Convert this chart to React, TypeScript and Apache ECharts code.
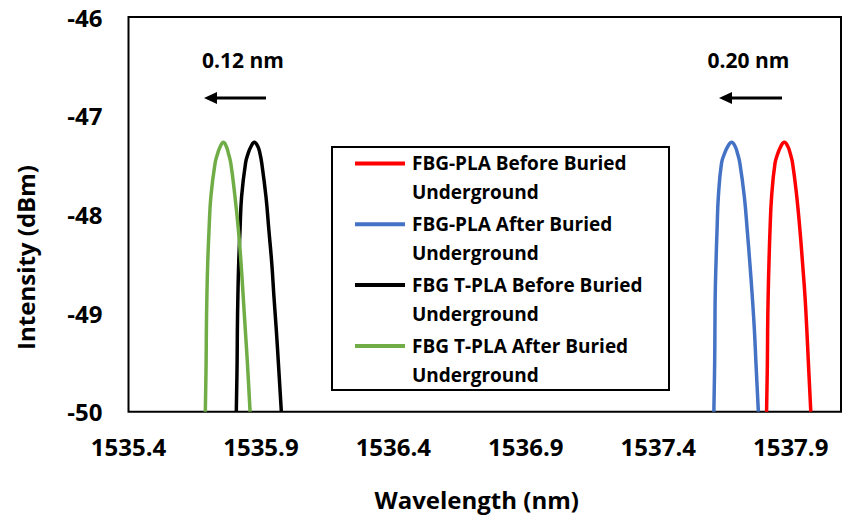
import React, { useEffect, useRef } from "react";
import * as echarts from "echarts";

const FONT = "'Open Sans', 'DejaVu Sans', sans-serif";

const seriesNames = [
  "FBG-PLA Before Buried Underground",
  "FBG-PLA After Buried Underground",
  "FBG T-PLA Before Buried Underground",
  "FBG T-PLA After Buried Underground",
];
const legendLines = [
  ["FBG-PLA Before Buried", "Underground"],
  ["FBG-PLA After Buried", "Underground"],
  ["FBG T-PLA Before Buried", "Underground"],
  ["FBG T-PLA After Buried", "Underground"],
];
const seriesColors = ["#FF0000", "#4472C4", "#000000", "#70AD47"];

const xTickLabels = [1535.4, 1535.9, 1536.4, 1536.9, 1537.4, 1537.9];
const yTickLabels = [-50, -49, -48, -47, -46];

const intensityLevels = [
  -50, -49.51, -49.17, -48.83, -48.5, -48.16, -47.82, -47.48, -47.38, -47.31, -47.27,
  -47.31, -47.38, -47.48, -47.82, -48.16, -48.5, -48.83, -49.17, -49.51, -50,
];

const wlPlaBefore = [
  1537.809, 1537.812, 1537.813, 1537.815, 1537.818, 1537.822, 1537.828, 1537.841, 1537.852, 1537.863, 1537.876,
  1537.889, 1537.898, 1537.907, 1537.923, 1537.935, 1537.945, 1537.954, 1537.961, 1537.967, 1537.976,
];
const intPlaBefore = intensityLevels.slice();

const wlPlaAfter = [
  1537.61, 1537.613, 1537.614, 1537.615, 1537.618, 1537.622, 1537.627, 1537.639, 1537.651, 1537.663, 1537.677,
  1537.69, 1537.699, 1537.708, 1537.725, 1537.736, 1537.746, 1537.755, 1537.763, 1537.769, 1537.778,
];
const intPlaAfter = intensityLevels.slice();

const wlTplaBefore = [
  1535.807, 1535.81, 1535.811, 1535.813, 1535.816, 1535.821, 1535.827, 1535.842, 1535.852, 1535.863, 1535.875,
  1535.888, 1535.896, 1535.903, 1535.919, 1535.93, 1535.941, 1535.949, 1535.958, 1535.966, 1535.977,
];
const intTplaBefore = intensityLevels.slice();

const wlTplaAfter = [
  1535.69, 1535.693, 1535.694, 1535.696, 1535.699, 1535.704, 1535.711, 1535.727, 1535.737, 1535.747, 1535.758,
  1535.769, 1535.777, 1535.786, 1535.802, 1535.815, 1535.825, 1535.833, 1535.841, 1535.849, 1535.859,
];
const intTplaAfter = intensityLevels.slice();

const wlSets = [wlPlaBefore, wlPlaAfter, wlTplaBefore, wlTplaAfter];
const intSets = [intPlaBefore, intPlaAfter, intTplaBefore, intTplaAfter];

const shiftLabels = ["0.12 nm", "0.20 nm"];

function arrow(tipX: number, tailX: number, y: number) {
  return [
    { type: "line", shape: { x1: tipX + 8, y1: y, x2: tailX, y2: y }, style: { stroke: "#000", lineWidth: 3 } },
    {
      type: "polygon",
      shape: { points: [[tipX, y], [tipX + 13, y - 6], [tipX + 13, y + 6]] },
      style: { fill: "#000" },
    },
  ];
}

export default function App() {
  const ref = useRef<HTMLDivElement>(null);
  useEffect(() => {
    if (!ref.current) return;
    const chart = echarts.init(ref.current, undefined, { renderer: "svg" });

    const legendGraphics: any[] = [
      {
        type: "rect",
        shape: { x: 332, y: 147, width: 337, height: 243 },
        style: { fill: "#fff", stroke: "#000", lineWidth: 2 },
        z: 10,
      },
    ];
    legendLines.forEach((lines, i) => {
      const cy = 163.5 + i * 60.8;
      legendGraphics.push({
        type: "line",
        shape: { x1: 355, y1: cy, x2: 405, y2: cy },
        style: { stroke: seriesColors[i], lineWidth: 4 },
        z: 11,
      });
      legendGraphics.push({
        type: "text",
        x: 412,
        y: cy - 14.4,
        style: {
          text: lines.join("\n"),
          font: `bold 19px ${FONT}`,
          fill: "#000",
          lineHeight: 28.8,
          verticalAlign: "top",
          align: "left",
        },
        z: 11,
      });
    });

    const option: any = {
      animation: false,
      backgroundColor: "#fff",
      grid: {
        left: 128.5,
        right: 2,
        top: 17,
        bottom: 105.3,
        show: true,
        borderColor: "#000",
        borderWidth: 2,
      },
      xAxis: {
        type: "value",
        min: 1535.4,
        max: 1538.09,
        axisLine: { show: false },
        axisTick: { show: false },
        splitLine: { show: false },
        axisLabel: {
          customValues: xTickLabels,
          formatter: (v: number) => v.toFixed(1),
          fontFamily: FONT,
          fontWeight: "bold",
          fontSize: 24,
          color: "#000",
          margin: 23,
        },
      },
      yAxis: {
        type: "value",
        min: -50,
        max: -46,
        interval: 1,
        axisLine: { show: false },
        axisTick: { show: false },
        splitLine: { show: false },
        axisLabel: {
          fontFamily: FONT,
          fontWeight: "bold",
          fontSize: 24,
          color: "#000",
          margin: 26,
          formatter: (v: number) => (yTickLabels.includes(v) ? String(v) : ""),
        },
      },
      series: seriesNames.map((name, i) => ({
        name,
        type: "line",
        showSymbol: false,
        smooth: 0.45,
        data: wlSets[i].map((w, j) => [w, intSets[i][j]]),
        lineStyle: { color: seriesColors[i], width: 3.5 },
        itemStyle: { color: seriesColors[i] },
      })),
      graphic: [
        {
          type: "text",
          x: 476.7,
          y: 499,
          style: {
            text: "Wavelength (nm)",
            font: `bold 24px ${FONT}`,
            fill: "#000",
            align: "center",
            verticalAlign: "middle",
          },
        },
        {
          type: "text",
          x: 25,
          y: 257.5,
          rotation: Math.PI / 2,
          style: {
            text: "Intensity (dBm)",
            font: `bold 24px ${FONT}`,
            fill: "#000",
            align: "center",
            verticalAlign: "middle",
          },
        },
        {
          type: "text",
          x: 243,
          y: 60,
          style: {
            text: shiftLabels[0],
            font: `bold 21px ${FONT}`,
            fill: "#000",
            align: "center",
            verticalAlign: "middle",
          },
        },
        {
          type: "text",
          x: 748.5,
          y: 60,
          style: {
            text: shiftLabels[1],
            font: `bold 21px ${FONT}`,
            fill: "#000",
            align: "center",
            verticalAlign: "middle",
          },
        },
        ...arrow(204, 266, 98),
        ...arrow(719, 782, 98),
        ...legendGraphics,
      ],
    };
    chart.setOption(option);
    return () => chart.dispose();
  }, []);
  return (
    <div
      ref={ref}
      style={{ position: "fixed", left: 0, top: 0, width: 843, height: 517, background: "#fff" }}
    />
  );
}
